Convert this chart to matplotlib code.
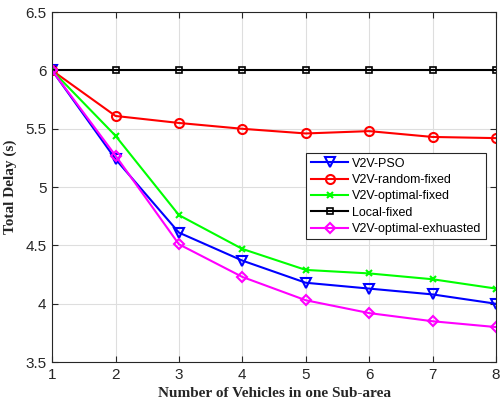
import matplotlib.pyplot as plt

# delay results per number of vehicles
vehicles = [1, 2, 3, 4, 5, 6, 7, 8]
v2v_pso = [6.00, 5.24, 4.61, 4.37, 4.18, 4.13, 4.08, 4.00]
v2v_random_fixed = [6.00, 5.61, 5.55, 5.50, 5.46, 5.48, 5.43, 5.42]
v2v_optimal_fixed = [6.00, 5.44, 4.76, 4.47, 4.29, 4.26, 4.21, 4.13]
local_fixed = [6.00, 6.00, 6.00, 6.00, 6.00, 6.00, 6.00, 6.00]
v2v_optimal_exh = [6.00, 5.27, 4.51, 4.23, 4.03, 3.92, 3.85, 3.80]

y_ticks = [3.5, 4, 4.5, 5, 5.5, 6, 6.5]

AX_COLOR = '#262626'

fig = plt.figure(figsize=(5.01, 4.05), dpi=100)
ax = fig.add_axes([0.104, 0.106, 0.886, 0.864])

lw = 1.5
ax.plot(vehicles, v2v_pso, color='#0000ff', marker='v', mfc='none', mew=1.5,
        ms=6.5, lw=lw, label='V2V-PSO')
ax.plot(vehicles, v2v_random_fixed, color='#ff0000', marker='o', mfc='none', mew=1.5,
        ms=6.5, lw=lw, label='V2V-random-fixed')
ax.plot(vehicles, v2v_optimal_fixed, color='#00ff00', marker='x', mew=1.5,
        ms=5, lw=lw, label='V2V-optimal-fixed')
ax.plot(vehicles, local_fixed, color='#000000', marker='s', mfc='none', mew=1.2,
        ms=5, lw=lw, label='Local-fixed')
ax.plot(vehicles, v2v_optimal_exh, color='#ff00ff', marker='D', mfc='none', mew=1.5,
        ms=5.5, lw=lw, label='V2V-optimal-exhuasted')

ax.set_xlim(1, 8)
ax.set_ylim(3.5, 6.5)
ax.set_xticks(vehicles)
ax.set_yticks(y_ticks)
ax.set_yticklabels(['3.5', '4', '4.5', '5', '5.5', '6', '6.5'])

# matlab-like look: light grid, inward ticks, full box
ax.grid(True, color='#dedede', linewidth=0.8)
ax.set_axisbelow(True)
for spine in ax.spines.values():
    spine.set_color(AX_COLOR)
    spine.set_linewidth(0.8)
ax.tick_params(direction='in', length=4, width=0.8, colors=AX_COLOR,
               labelsize=11, top=True, right=True, pad=4)
for lab in ax.get_xticklabels() + ax.get_yticklabels():
    lab.set_family('Liberation Sans')

ax.set_xlabel('Number of Vehicles in one Sub-area', family='Liberation Serif',
              fontweight='bold', fontsize=11, color=AX_COLOR, labelpad=4)
ax.set_ylabel('Total Delay (s)', family='Liberation Serif',
              fontweight='bold', fontsize=11, color=AX_COLOR, labelpad=6)

leg = ax.legend(loc='upper right', bbox_to_anchor=(0.977, 0.597),
                prop={'family': 'Liberation Sans', 'size': 9},
                fancybox=False, framealpha=1, edgecolor=AX_COLOR,
                handlelength=3.0, handletextpad=0.3, borderpad=0.35,
                labelspacing=0.35, borderaxespad=0)
leg.get_frame().set_linewidth(0.8)

fig.savefig('out.png', dpi=100)
